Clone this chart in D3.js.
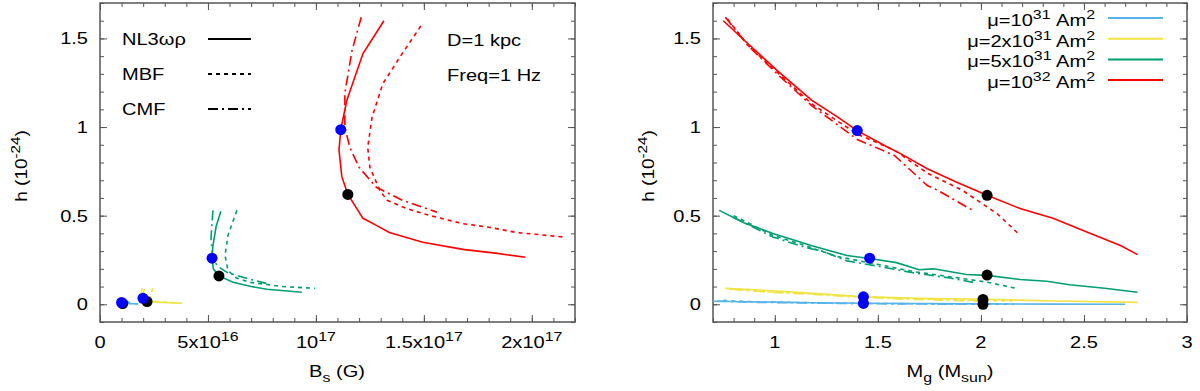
<!DOCTYPE html>
<html>
<head>
<meta charset="utf-8">
<script src="https://cdn.jsdelivr.net/npm/d3@7"></script>
<style>
  body { margin: 0; background: #fff; }
  svg { font-family: "Liberation Sans", Arial, sans-serif; font-size: 17px; }
</style>
</head>
<body>
<svg width="1200" height="391"></svg>
<script>
// ---- data ----
const eosNames = ["NL3ωρ", "MBF", "CMF"];
const eosDash = ["none", "4,4", "10,4,2,4"];
const muColors = ["#56b4e9", "#f0e442", "#009e73", "#ff0000"];
const muMant = ["μ=10", "μ=2x10", "μ=5x10", "μ=10"];
const muExp = ["31", "31", "31", "32"];

// left panel: h (1e-24) vs B_s (in units of 1e16 G)
const bs_mu1_NL = [1.00, 0.95, 1.00, 1.30, 1.75];
const hb_mu1_NL = [0.030, 0.015, 0.008, 0.004, 0.002];
const bs_mu1_MBF = [1.25, 1.35, 1.60, 1.90];
const hb_mu1_MBF = [0.020, 0.010, 0.004, 0.001];
const bs_mu1_CMF = [1.05, 1.15, 1.45];
const hb_mu1_CMF = [0.020, 0.008, 0.003];

const bs_mu2_NL = [2.05, 2.00, 2.05, 2.25, 2.60, 3.00, 3.40, 3.80];
const hb_mu2_NL = [0.085, 0.050, 0.030, 0.016, 0.012, 0.010, 0.008, 0.006];
const bs_mu2_MBF = [2.45, 2.35, 2.35, 2.60, 3.00, 3.40];
const hb_mu2_MBF = [0.090, 0.055, 0.028, 0.016, 0.012, 0.009];
const bs_mu2_CMF = [1.95, 1.90, 2.00, 2.30, 2.70];
const hb_mu2_CMF = [0.090, 0.055, 0.030, 0.018, 0.012];

const bs_mu5_NL = [5.60, 5.38, 5.23, 5.19, 5.25, 5.51, 6.16, 7.00, 7.73, 9.35];
const hb_mu5_NL = [0.525, 0.44, 0.33, 0.26, 0.20, 0.16, 0.124, 0.10, 0.085, 0.068];
const bs_mu5_MBF = [6.34, 5.93, 5.79, 5.93, 6.30, 6.94, 8.47, 9.95];
const hb_mu5_MBF = [0.53, 0.39, 0.276, 0.19, 0.15, 0.124, 0.10, 0.09];
const bs_mu5_CMF = [5.23, 5.14, 5.23, 5.50, 5.88, 6.62, 7.70];
const hb_mu5_CMF = [0.53, 0.37, 0.25, 0.21, 0.18, 0.152, 0.118];

const bs_mu10_NL = [13.15, 12.18, 11.43, 11.15, 11.07, 11.20, 11.48, 12.18, 12.80, 13.40, 14.95, 16.80, 18.40, 19.70];
const hb_mu10_NL = [1.60, 1.415, 1.15, 0.985, 0.87, 0.72, 0.62, 0.485, 0.445, 0.405, 0.35, 0.31, 0.287, 0.265];
const bs_mu10_MBF = [14.86, 14.00, 13.10, 12.60, 12.40, 12.50, 12.96, 13.30, 14.20, 15.30, 16.80, 18.00, 19.30, 21.45];
const hb_mu10_MBF = [1.57, 1.415, 1.245, 1.055, 0.885, 0.773, 0.643, 0.587, 0.54, 0.50, 0.455, 0.435, 0.405, 0.38];
const bs_mu10_CMF = [12.10, 11.67, 11.34, 11.34, 11.57, 12.00, 12.80, 14.00, 15.60];
const hb_mu10_CMF = [1.62, 1.43, 1.19, 1.00, 0.885, 0.773, 0.66, 0.587, 0.52];

const bsBlueDots = [1.00, 1.99, 5.19, 11.15];
const hbBlueDots = [0.010, 0.034, 0.26, 0.985];
const bsBlackDots = [1.05, 2.18, 5.51, 11.48];
const hbBlackDots = [0.004, 0.015, 0.16, 0.62];

// right panel: h (1e-24) vs M_g (M_sun)
const mg_mu1_NL = [0.70, 0.85, 1.00, 1.20, 1.43, 1.70, 2.01, 2.35, 2.70];
const hm_mu1_NL = [0.017, 0.014, 0.012, 0.009, 0.006, 0.004, 0.002, 0.001, 0.0];
const mg_mu1_MBF = [0.75, 0.90, 1.10, 1.43, 1.80, 2.16];
const hm_mu1_MBF = [0.022, 0.014, 0.010, 0.005, 0.002, 0.0];
const mg_mu1_CMF = [0.72, 0.90, 1.10, 1.43, 1.80, 2.00];
const hm_mu1_CMF = [0.018, 0.011, 0.008, 0.003, 0.001, 0.0];

const mg_mu2_NL = [0.76, 0.90, 1.05, 1.20, 1.43, 1.70, 2.01, 2.30, 2.76];
const hm_mu2_NL = [0.090, 0.082, 0.072, 0.060, 0.042, 0.034, 0.028, 0.020, 0.011];
const mg_mu2_MBF = [0.78, 0.95, 1.15, 1.35, 1.60, 1.85, 2.16];
const hm_mu2_MBF = [0.086, 0.072, 0.062, 0.048, 0.035, 0.026, 0.018];
const mg_mu2_CMF = [0.80, 0.95, 1.15, 1.35, 1.60, 1.85, 2.00];
const hm_mu2_CMF = [0.084, 0.070, 0.058, 0.044, 0.030, 0.022, 0.018];

const mg_mu5_NL = [0.73, 0.85, 0.99, 1.10, 1.18, 1.35, 1.46, 1.59, 1.70, 1.77, 1.93, 2.03, 2.19, 2.32, 2.43, 2.60, 2.76];
const hm_mu5_NL = [0.53, 0.46, 0.40, 0.36, 0.33, 0.275, 0.258, 0.235, 0.195, 0.20, 0.168, 0.163, 0.14, 0.13, 0.11, 0.09, 0.068];
const mg_mu5_MBF = [0.80, 0.99, 1.15, 1.30, 1.50, 1.67, 1.87, 2.03, 2.17];
const hm_mu5_MBF = [0.50, 0.39, 0.33, 0.27, 0.225, 0.185, 0.152, 0.125, 0.09];
const mg_mu5_CMF = [0.80, 0.99, 1.15, 1.23, 1.35, 1.50, 1.67, 1.85, 1.98];
const hm_mu5_CMF = [0.49, 0.38, 0.32, 0.30, 0.245, 0.215, 0.178, 0.148, 0.12];

const mg_mu10_NL = [0.75, 0.87, 1.02, 1.18, 1.30, 1.40, 1.55, 1.61, 1.74, 1.88, 2.03, 2.19, 2.35, 2.52, 2.68, 2.76];
const hm_mu10_NL = [1.60, 1.47, 1.31, 1.15, 1.06, 0.98, 0.885, 0.85, 0.765, 0.69, 0.615, 0.54, 0.485, 0.405, 0.33, 0.28];
const mg_mu10_MBF = [0.77, 0.87, 1.02, 1.18, 1.40, 1.58, 1.74, 1.91, 2.08, 2.18];
const hm_mu10_MBF = [1.61, 1.46, 1.30, 1.13, 0.96, 0.87, 0.74, 0.643, 0.51, 0.40];
const mg_mu10_CMF = [0.76, 0.87, 1.02, 1.18, 1.40, 1.58, 1.74, 1.79, 1.96];
const hm_mu10_CMF = [1.62, 1.46, 1.29, 1.12, 0.93, 0.84, 0.67, 0.643, 0.53];

const mgBlueDots = [1.43, 1.43, 1.46, 1.40];
const hmBlueDots = [0.005, 0.042, 0.26, 0.98];
const mgBlackDots = [2.01, 2.01, 2.03, 2.03];
const hmBlackDots = [0.0, 0.027, 0.165, 0.615];

// ticks
const hTicks = [0, 0.5, 1, 1.5];
const hTickLabels = ["0", "0.5", "1", "1.5"];
const bsTicks = [0, 5, 10, 15, 20];
const bsTickMant = ["0", "5x10", "10", "1.5x10", "2x10"];
const bsTickExp = ["", "16", "17", "17", "17"];
const mgTicks = [1, 1.5, 2, 2.5, 3];
const mgTickLabels = ["1", "1.5", "2", "2.5", "3"];

// ---- drawing ----
const svg = d3.select("svg");
const TOP = 3, BOTTOM = 322;
const STRETCH = 1.18; // glyphs in the source are drawn wider than tall

function rich(text, parts) {
  let shift = 0;
  parts.forEach(([str, kind]) => {
    const target = kind === "sup" ? -7 : kind === "sub" ? 5 : 0;
    const t = text.append("tspan").attr("dy", target - shift).text(str);
    if (kind) t.attr("font-size", 13.5);
    shift = target;
  });
}

function label(g, x, y, anchor) {
  return g.append("text")
    .attr("transform", `translate(${x},${y}) scale(${STRETCH},1)`)
    .attr("text-anchor", anchor || "start");
}

function panel(x, y, xMinor, xMajor) {
  const g = svg.append("g");
  const [x0, x1] = x.range();
  const hMinor = d3.range(-0.1, 1.71, 0.1).map((v) => +v.toFixed(2));

  const ax = (axis, tx, ty) =>
    g.append("g")
      .attr("transform", `translate(${tx},${ty})`)
      .attr("color", "#555")
      .call(axis)
      .call((a) => a.select(".domain").remove());

  [[xMinor, 4], [xMajor, 7]].forEach(([vals, len]) => {
    ax(d3.axisBottom(x).tickValues(vals).tickSize(-len).tickFormat(""), 0, BOTTOM);
    ax(d3.axisTop(x).tickValues(vals).tickSize(-len).tickFormat(""), 0, TOP);
  });
  [[hMinor, 4], [hTicks, 7]].forEach(([vals, len]) => {
    ax(d3.axisLeft(y).tickValues(vals).tickSize(-len).tickFormat(""), x0, 0);
    ax(d3.axisRight(y).tickValues(vals).tickSize(-len).tickFormat(""), x1, 0);
  });

  g.append("rect")
    .attr("x", x0).attr("y", TOP)
    .attr("width", x1 - x0).attr("height", BOTTOM - TOP)
    .attr("fill", "none").attr("stroke", "#555").attr("stroke-width", 1.5);

  hTicks.forEach((d, i) => {
    label(g, x0 - 12, y(d) + 6, "end").text(hTickLabels[i]);
  });

  return g;
}

function curves(g, x, y, series) {
  const line = d3.line().x((d) => x(d[0])).y((d) => y(d[1]));
  g.selectAll("path.curve")
    .data(series)
    .join("path")
    .attr("class", "curve")
    .attr("d", (s) => line(d3.zip(s.x, s.y)))
    .attr("fill", "none")
    .attr("stroke", (s) => muColors[s.mu])
    .attr("stroke-width", 1.6)
    .attr("stroke-dasharray", (s) => eosDash[s.eos]);
}

function dots(g, x, y, xs, ys, color) {
  g.selectAll(null)
    .data(d3.zip(xs, ys))
    .join("circle")
    .attr("cx", (d) => x(d[0]))
    .attr("cy", (d) => y(d[1]))
    .attr("r", 5.5)
    .attr("fill", color);
}

function yTitle(g, tx) {
  const t = g.append("text")
    .attr("transform", `translate(${tx},166) rotate(-90) scale(1.12,1)`)
    .attr("text-anchor", "middle");
  rich(t, [["h (10", null], ["-24", "sup"], [")", null]]);
}

// left panel
const xL = d3.scaleLinear().domain([0, 22]).range([100, 575]);
const yL = d3.scaleLinear().domain([-0.1, 1.7]).range([BOTTOM, TOP]);
const gL = panel(xL, yL, d3.range(0, 23, 1), bsTicks);

bsTicks.forEach((d, i) => {
  const t = label(gL, xL(d), 348, "middle");
  rich(t, bsTickExp[i] ? [[bsTickMant[i], null], [bsTickExp[i], "sup"]] : [[bsTickMant[i], null]]);
});

const leftSeries = [
  { mu: 0, eos: 0, x: bs_mu1_NL, y: hb_mu1_NL },
  { mu: 0, eos: 1, x: bs_mu1_MBF, y: hb_mu1_MBF },
  { mu: 0, eos: 2, x: bs_mu1_CMF, y: hb_mu1_CMF },
  { mu: 1, eos: 0, x: bs_mu2_NL, y: hb_mu2_NL },
  { mu: 1, eos: 1, x: bs_mu2_MBF, y: hb_mu2_MBF },
  { mu: 1, eos: 2, x: bs_mu2_CMF, y: hb_mu2_CMF },
  { mu: 2, eos: 0, x: bs_mu5_NL, y: hb_mu5_NL },
  { mu: 2, eos: 1, x: bs_mu5_MBF, y: hb_mu5_MBF },
  { mu: 2, eos: 2, x: bs_mu5_CMF, y: hb_mu5_CMF },
  { mu: 3, eos: 0, x: bs_mu10_NL, y: hb_mu10_NL },
  { mu: 3, eos: 1, x: bs_mu10_MBF, y: hb_mu10_MBF },
  { mu: 3, eos: 2, x: bs_mu10_CMF, y: hb_mu10_CMF },
];
curves(gL, xL, yL, leftSeries);
dots(gL, xL, yL, bsBlackDots, hbBlackDots, "#000");
dots(gL, xL, yL, bsBlueDots, hbBlueDots, "#0000ff");

// EOS legend (black line samples)
eosNames.forEach((name, i) => {
  const ly = 39 + i * 35;
  label(gL, 122, ly + 6).text(name);
  gL.append("line")
    .attr("x1", 208).attr("x2", 251).attr("y1", ly).attr("y2", ly)
    .attr("stroke", "#000").attr("stroke-width", 2)
    .attr("stroke-dasharray", eosDash[i]);
});
label(gL, 447, 46).text("D=1 kpc");
label(gL, 447, 81).text("Freq=1 Hz");

rich(label(gL, 337, 377, "middle"), [["B", null], ["s", "sub"], [" (G)", null]]);
yTitle(gL, 27);

// right panel
const xR = d3.scaleLinear().domain([0.7, 3]).range([713, 1187]);
const yR = d3.scaleLinear().domain([-0.1, 1.7]).range([BOTTOM, TOP]);
const gR = panel(xR, yR, d3.range(0.7, 3.01, 0.1).map((v) => +v.toFixed(2)), mgTicks);

mgTicks.forEach((d, i) => {
  label(gR, xR(d), 348, "middle").text(mgTickLabels[i]);
});

const rightSeries = [
  { mu: 0, eos: 0, x: mg_mu1_NL, y: hm_mu1_NL },
  { mu: 0, eos: 1, x: mg_mu1_MBF, y: hm_mu1_MBF },
  { mu: 0, eos: 2, x: mg_mu1_CMF, y: hm_mu1_CMF },
  { mu: 1, eos: 0, x: mg_mu2_NL, y: hm_mu2_NL },
  { mu: 1, eos: 1, x: mg_mu2_MBF, y: hm_mu2_MBF },
  { mu: 1, eos: 2, x: mg_mu2_CMF, y: hm_mu2_CMF },
  { mu: 2, eos: 0, x: mg_mu5_NL, y: hm_mu5_NL },
  { mu: 2, eos: 1, x: mg_mu5_MBF, y: hm_mu5_MBF },
  { mu: 2, eos: 2, x: mg_mu5_CMF, y: hm_mu5_CMF },
  { mu: 3, eos: 0, x: mg_mu10_NL, y: hm_mu10_NL },
  { mu: 3, eos: 1, x: mg_mu10_MBF, y: hm_mu10_MBF },
  { mu: 3, eos: 2, x: mg_mu10_CMF, y: hm_mu10_CMF },
];
curves(gR, xR, yR, rightSeries);
dots(gR, xR, yR, mgBlackDots, hmBlackDots, "#000");
dots(gR, xR, yR, mgBlueDots, hmBlueDots, "#0000ff");

// mu legend
muColors.forEach((c, i) => {
  const ly = 18 + i * 20.7;
  rich(label(gR, 1095, ly + 8, "end"),
    [[muMant[i], null], [muExp[i], "sup"], [" Am", null], ["2", "sup"]]);
  gR.append("line")
    .attr("x1", 1108).attr("x2", 1163).attr("y1", ly).attr("y2", ly)
    .attr("stroke", c).attr("stroke-width", 2);
});

rich(label(gR, 950, 377, "middle"),
  [["M", null], ["g", "sub"], [" (M", null], ["sun", "sub"], [")", null]]);
yTitle(gR, 654);
</script>
</body>
</html>
